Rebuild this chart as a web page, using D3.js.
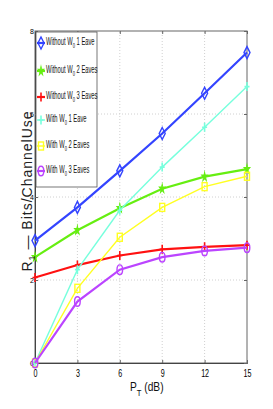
<!DOCTYPE html>
<html>
<head>
<meta charset="utf-8">
<script src="https://cdn.jsdelivr.net/npm/d3@7"></script>
<style>
  body { margin: 0; background: #fff; }
  svg { display: block; font-family: "Liberation Sans", Arial, sans-serif; }
</style>
</head>
<body>
<svg id="chart"></svg>
<script>
const width = 273;
const height = 409;
const margin = {top: 31, right: 26, bottom: 46, left: 35};

const powers = [0, 3, 6, 9, 12, 15];
const xTicks = [0, 3, 6, 9, 12, 15];
const yTicks = [0, 2, 4, 6, 8];

const without1 = [2.95, 3.75, 4.63, 5.53, 6.5, 7.48];
const without2 = [2.55, 3.2, 3.73, 4.2, 4.49, 4.67];
const without3 = [2.06, 2.36, 2.59, 2.74, 2.8, 2.84];
const with1 = [0, 2.25, 3.68, 4.72, 5.68, 6.66];
const with2 = [0, 1.8, 3.03, 3.75, 4.25, 4.5];
const with3 = [0, 1.48, 2.25, 2.55, 2.7, 2.78];

const series = [
  {pre: 'Without W', post: ' 1 Eave', values: without1, color: '#3344ff', width: 2.2, marker: 'diamond'},
  {pre: 'Without W', post: ' 2 Eaves', values: without2, color: '#66ee11', width: 2.2, marker: 'star'},
  {pre: 'Without W', post: ' 3 Eaves', values: without3, color: '#ff1111', width: 2.2, marker: 'plus'},
  {pre: 'With W', post: ' 1 Eave', values: with1, color: '#77ffdd', width: 1.4, marker: 'plus'},
  {pre: 'With W', post: ' 2 Eaves', values: with2, color: '#ffff22', width: 1.4, marker: 'square'},
  {pre: 'With W', post: ' 3 Eaves', values: with3, color: '#bb44ff', width: 2.2, marker: 'circle'}
];

const x = d3.scaleLinear().domain([0, 15]).range([margin.left, width - margin.right]);
const y = d3.scaleLinear().domain([0, 8]).range([height - margin.bottom, margin.top]);

const svg = d3.select('#chart').attr('width', width).attr('height', height);

// grid
svg.append('g')
  .selectAll('line')
  .data(xTicks.slice(1, -1))
  .join('line')
  .attr('x1', d => x(d)).attr('x2', d => x(d))
  .attr('y1', y(0)).attr('y2', y(8))
  .attr('stroke', '#d0d0d0').attr('stroke-dasharray', '1,2');
svg.append('g')
  .selectAll('line')
  .data(yTicks.slice(1, -1))
  .join('line')
  .attr('x1', x(0)).attr('x2', x(15))
  .attr('y1', d => y(d)).attr('y2', d => y(d))
  .attr('stroke', '#d0d0d0').attr('stroke-dasharray', '1,2');

// frame
svg.append('rect')
  .attr('x', x(0)).attr('y', y(8))
  .attr('width', x(15) - x(0)).attr('height', y(0) - y(8))
  .attr('fill', 'none').attr('stroke', '#666').attr('stroke-width', 1);

// axes
svg.append('g')
  .attr('transform', `translate(0,${y(0)})`)
  .call(d3.axisBottom(x).tickValues(xTicks).tickSize(-3).tickPadding(6))
  .call(g => g.select('.domain').attr('stroke', '#444'))
  .call(g => g.selectAll('.tick line').attr('stroke', '#666'))
  .call(g => g.selectAll('.tick text')
    .attr('font-size', 11)
    .attr('transform', 'scale(0.65,1)')
    .attr('x', 0));
svg.append('g')
  .attr('transform', `translate(0,${y(8)})`)
  .call(d3.axisTop(x).tickValues(xTicks).tickSize(-3).tickFormat(''))
  .call(g => g.select('.domain').remove())
  .call(g => g.selectAll('.tick line').attr('stroke', '#666'));
svg.append('g')
  .attr('transform', `translate(${x(0)},0)`)
  .call(d3.axisLeft(y).tickValues(yTicks).tickSize(-3).tickPadding(1))
  .call(g => g.select('.domain').attr('stroke', '#444'))
  .call(g => g.selectAll('.tick line').attr('stroke', '#666'))
  .call(g => g.selectAll('.tick text').attr('font-size', 7));
svg.append('g')
  .attr('transform', `translate(${x(15)},0)`)
  .call(d3.axisRight(y).tickValues(yTicks).tickSize(-3).tickFormat(''))
  .call(g => g.select('.domain').remove())
  .call(g => g.selectAll('.tick line').attr('stroke', '#666'));

// markers
function drawMarker(g, type, color, cx, cy) {
  if (type === 'diamond') {
    g.append('path')
      .attr('d', `M${cx},${cy - 6}L${cx + 3},${cy}L${cx},${cy + 6}L${cx - 3},${cy}Z`)
      .attr('fill', 'none').attr('stroke', color).attr('stroke-width', 1.4);
  } else if (type === 'star') {
    g.append('path')
      .attr('d', d3.symbol(d3.symbolStar, 18)())
      .attr('transform', `translate(${cx},${cy}) scale(0.8,1.3)`)
      .attr('fill', color).attr('stroke', color).attr('stroke-width', 0.8);
  } else if (type === 'plus') {
    g.append('path')
      .attr('d', `M${cx - 2.5},${cy}H${cx + 2.5}M${cx},${cy - 4.5}V${cy + 4.5}`)
      .attr('fill', 'none').attr('stroke', color).attr('stroke-width', 1.6);
  } else if (type === 'square') {
    g.append('rect')
      .attr('x', cx - 2.5).attr('y', cy - 4)
      .attr('width', 5).attr('height', 8)
      .attr('fill', 'none').attr('stroke', color).attr('stroke-width', 1.4);
  } else if (type === 'circle') {
    g.append('ellipse')
      .attr('cx', cx).attr('cy', cy).attr('rx', 2.8).attr('ry', 4.8)
      .attr('fill', 'none').attr('stroke', color).attr('stroke-width', 1.4);
  }
}

const line = d3.line().x((d, i) => x(powers[i])).y(d => y(d));

const plot = svg.append('g');
series.forEach(s => {
  plot.append('path')
    .datum(s.values)
    .attr('d', line)
    .attr('fill', 'none')
    .attr('stroke', s.color)
    .attr('stroke-width', s.width);
  const mg = plot.append('g');
  s.values.forEach((v, i) => drawMarker(mg, s.marker, s.color, x(powers[i]), y(v)));
});

// legend
const legendTop = y(8) + 1;
const legend = svg.append('g');
legend.append('rect')
  .attr('x', x(0) + 1).attr('y', legendTop)
  .attr('width', 61).attr('height', 155)
  .attr('fill', '#fff').attr('stroke', '#555').attr('stroke-width', 0.8);

const rowY = [43, 71, 97, 120, 146, 171];
series.forEach((s, i) => {
  const yy = rowY[i];
  legend.append('line')
    .attr('x1', 37).attr('x2', 45).attr('y1', yy).attr('y2', yy)
    .attr('stroke', s.color).attr('stroke-width', s.width);
  drawMarker(legend, s.marker, s.color, 41, yy);
  const t = legend.append('g')
    .attr('transform', `translate(46,${yy + 2}) scale(0.58,1)`)
    .append('text')
    .attr('font-size', 10)
    .attr('fill', '#111');
  t.append('tspan').text(s.pre);
  t.append('tspan').attr('font-size', 7).attr('dy', 3).text('0');
  t.append('tspan').attr('dy', -3).text(s.post);
});

// axis labels
const xl = svg.append('g')
  .attr('transform', `translate(130,391) scale(0.85,1)`)
  .append('text')
  .attr('font-size', 12)
  .attr('fill', '#111');
xl.append('tspan').text('P');
xl.append('tspan').attr('font-size', 9).attr('dy', 5).text('T');
xl.append('tspan').attr('dy', -5).text(' (dB)');

const yl = svg.append('text')
  .attr('transform', 'translate(32,191) rotate(-90)')
  .attr('text-anchor', 'middle')
  .attr('font-size', 14)
  .attr('letter-spacing', 1)
  .attr('fill', '#222');
yl.append('tspan').text('R');
yl.append('tspan').attr('font-size', 9).attr('dy', 3).text('1');
yl.append('tspan').attr('dy', -3).text(' \u2014  Bits/ChannelUse');
</script>
</body>
</html>
